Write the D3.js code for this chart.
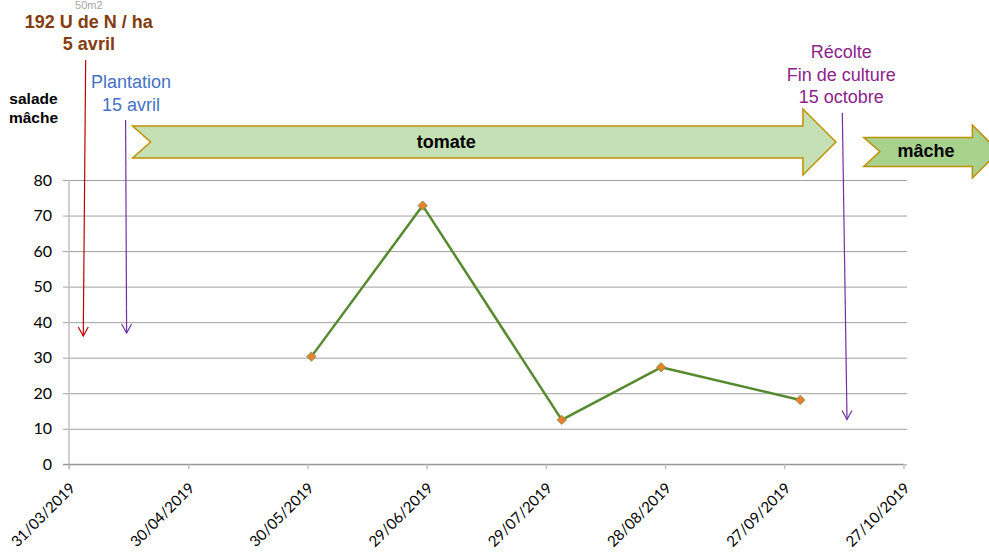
<!DOCTYPE html>
<html>
<head>
<meta charset="utf-8">
<script src="https://cdn.jsdelivr.net/npm/d3@7/dist/d3.min.js"></script>
<style>
  body { margin: 0; background: #fff; }
  svg { display: block; }
</style>
</head>
<body>
<svg id="chart" width="989" height="554"></svg>
<script>
// Nitrate measurements (sampling dates and values)
const sampleDates = ["2019-05-31", "2019-06-28", "2019-08-02", "2019-08-27", "2019-10-01"];
const nitrateValues = [30.3, 72.8, 12.5, 27.3, 18.1];

// Axis ticks
const xTickDates = ["2019-03-31", "2019-04-30", "2019-05-30", "2019-06-29",
                    "2019-07-29", "2019-08-28", "2019-09-27", "2019-10-27"];
const yTicks = [0, 10, 20, 30, 40, 50, 60, 70, 80];

// Crop periods shown as banner arrows
const cropNames = ["tomate", "mâche"];
const cropStarts = ["2019-04-16", "2019-10-17"];
const cropEnds = ["2019-10-10", "2019-11-20"];

// Field events
const eventDates = ["2019-04-05", "2019-04-15", "2019-10-15"];
const eventLabels = [["192 U de N / ha", "5 avril"], ["Plantation", "15 avril"], ["Récolte", "Fin de culture", "15 octobre"]];

const parse = d3.timeParse("%Y-%m-%d");
const fmt = d3.timeFormat("%d/%m/%Y");

const svg = d3.select("#chart");

const x = d3.scaleTime()
  .domain([parse(xTickDates[0]), parse(xTickDates[xTickDates.length - 1])])
  .range([69, 903.5]);
const y = d3.scaleLinear().domain([0, 80]).range([464.3, 180]);

// Horizontal gridlines with y-axis labels
const yAxis = d3.axisLeft(y).tickValues(yTicks).tickSize(-(907 - 63)).tickPadding(11).tickFormat(d3.format("d"));
const gy = svg.append("g").attr("transform", "translate(63,0)").call(yAxis);
gy.select(".domain").remove();
gy.selectAll(".tick line").attr("stroke", "#a0a0a0").attr("stroke-width", 1);
gy.selectAll(".tick text")
  .attr("font-family", "Lato, 'Open Sans', sans-serif")
  .attr("font-size", 16)
  .attr("fill", "#000");

// Vertical axis line
svg.append("line")
  .attr("x1", 69).attr("x2", 69)
  .attr("y1", y(80)).attr("y2", y(0) + 5)
  .attr("stroke", "#bfbfbf").attr("stroke-width", 1.5);

// Date axis
const xAxis = d3.axisBottom(x).tickValues(xTickDates.map(parse)).tickSize(5).tickFormat(fmt);
const gx = svg.append("g").attr("transform", `translate(0,${y(0)})`).call(xAxis);
gx.select(".domain").attr("d", `M63,0H${x.range()[1]}`).attr("stroke", "#8c8c8c");
gx.selectAll(".tick line").attr("stroke", "#bfbfbf").attr("stroke-width", 1.5);
gx.selectAll(".tick text")
  .attr("font-family", "Lato, 'Open Sans', sans-serif")
  .attr("font-size", 15)
  .attr("fill", "#000")
  .attr("text-anchor", "end")
  .attr("dy", "0.35em")
  .attr("transform", "translate(3,21) rotate(-45)")
  .attr("y", 0);

// Nitrate curve
const pts = sampleDates.map((d, i) => ({ date: parse(d), v: nitrateValues[i] }));
svg.append("path")
  .datum(pts)
  .attr("fill", "none")
  .attr("stroke", "#578a30")
  .attr("stroke-width", 2.5)
  .attr("stroke-linejoin", "round")
  .attr("d", d3.line().x(d => x(d.date)).y(d => y(d.v)));

svg.selectAll(".marker")
  .data(pts)
  .join("rect")
  .attr("class", "marker")
  .attr("x", -3.3).attr("y", -3.3).attr("width", 6.6).attr("height", 6.6)
  .attr("transform", d => `translate(${x(d.date)},${y(d.v)}) rotate(45)`)
  .attr("fill", "#ed7d31")
  .attr("stroke", "#6f9a3a")
  .attr("stroke-width", 0.8);

// Crop banner arrows
const bannerFills = ["#c5e0b4", "#a9d18e"];
const bannerGeom = [
  { top: 126, bottom: 158, headTop: 109, headBottom: 175, notch: 18, textShift: -21.5 },
  { top: 137.5, bottom: 166.5, headTop: 125, headBottom: 178, notch: 16, textShift: 8 }
];
cropNames.forEach((name, i) => {
  const g = bannerGeom[i];
  const x0 = x(parse(cropStarts[i]));
  const tip = x(parse(cropEnds[i]));
  const mid = (g.headTop + g.headBottom) / 2;
  const headLen = (g.headBottom - g.headTop) / 2;
  const base = tip - headLen;
  const pathD = `M${x0},${g.top} L${base},${g.top} L${base},${g.headTop} L${tip},${mid} ` +
    `L${base},${g.headBottom} L${base},${g.bottom} L${x0},${g.bottom} L${x0 + g.notch},${mid} Z`;
  svg.append("path")
    .attr("d", pathD)
    .attr("fill", bannerFills[i])
    .attr("stroke", "#bf9000")
    .attr("stroke-width", 1.5)
    .attr("stroke-linejoin", "miter");
  svg.append("text")
    .attr("x", (x0 + base) / 2 + g.textShift).attr("y", mid + 5.5)
    .attr("text-anchor", "middle")
    .attr("font-family", "'Liberation Sans', Arial, sans-serif")
    .attr("font-weight", "bold")
    .attr("font-size", 18)
    .attr("fill", "#000")
    .text(name);
});

// Event arrows (vertical pointers with open heads)
const eventColors = ["#c00000", "#7030a0", "#7030a0"];
const eventTextColors = ["#843c0c", "#4472c4", "#8b238b"];
const arrowGeom = [
  { dTop: -3.2, dBottom: -5.6, yTop: 60, yTip: 336 },
  { dTop: -3, dBottom: -2, yTop: 120, yTip: 333 },
  { dTop: -13.5, dBottom: -8.8, yTop: 113, yTip: 419.5 }
];
const labelGeom = [
  { dx: 0, y0: 28, lh: 22, bold: true },
  { dx: 2.5, y0: 88, lh: 23, bold: false },
  { dx: -14.5, y0: 58, lh: 22.5, bold: false }
];
eventDates.forEach((d, i) => {
  const xc = x(parse(d));
  const a = arrowGeom[i];
  const xt = xc + a.dTop, xb = xc + a.dBottom;
  svg.append("line")
    .attr("x1", xt).attr("y1", a.yTop).attr("x2", xb).attr("y2", a.yTip)
    .attr("stroke", eventColors[i]).attr("stroke-width", 1.2);
  svg.append("path")
    .attr("d", `M${xb - 5},${a.yTip - 9} L${xb},${a.yTip} L${xb + 5},${a.yTip - 9}`)
    .attr("fill", "none")
    .attr("stroke", eventColors[i]).attr("stroke-width", 1.2);

  const lg = labelGeom[i];
  const t = svg.append("text")
    .attr("text-anchor", "middle")
    .attr("font-family", "'Liberation Sans', Arial, sans-serif")
    .attr("font-weight", lg.bold ? "bold" : "normal")
    .attr("font-size", 18)
    .attr("fill", eventTextColors[i]);
  eventLabels[i].forEach((line, j) => {
    t.append("tspan").attr("x", xc + lg.dx).attr("y", lg.y0 + j * lg.lh).text(line);
  });
});

// Plot surface note above the fertilisation label
svg.append("text")
  .attr("x", x(parse(eventDates[0]))).attr("y", 9)
  .attr("text-anchor", "middle")
  .attr("font-family", "'Liberation Sans', Arial, sans-serif")
  .attr("font-size", 11)
  .attr("fill", "#a6a6a6")
  .text("50m2");

// Previous crop label
const prev = svg.append("text")
  .attr("text-anchor", "middle")
  .attr("font-family", "'Liberation Sans', Arial, sans-serif")
  .attr("font-weight", "bold")
  .attr("font-size", 15.5)
  .attr("fill", "#000");
["salade", "mâche"].forEach((s, j) => {
  prev.append("tspan").attr("x", 33.5).attr("y", 104 + j * 19).text(s);
});
</script>
</body>
</html>
